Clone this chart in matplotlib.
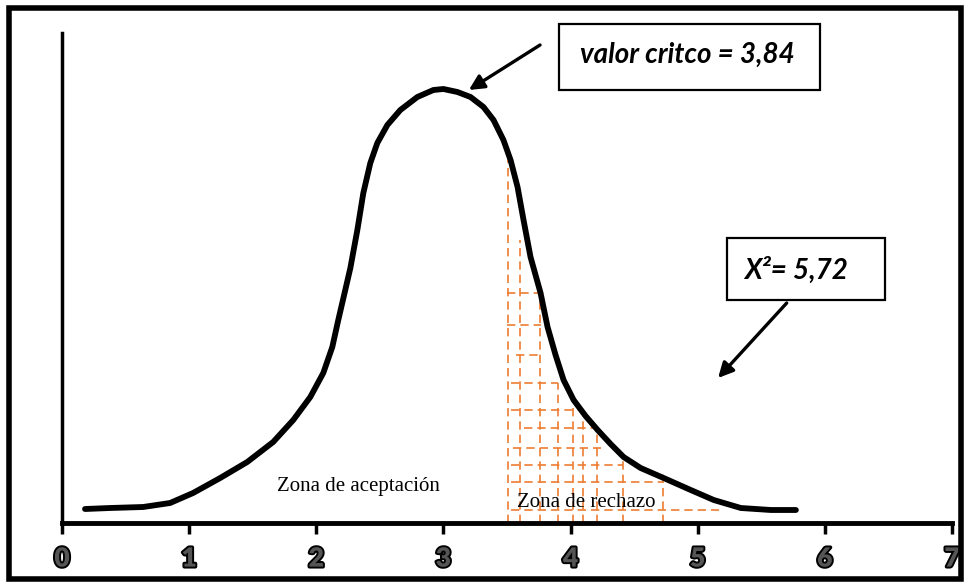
import matplotlib
matplotlib.use("Agg")
import matplotlib.pyplot as plt
from matplotlib.patches import Rectangle
import matplotlib.patheffects as pe

# curva (leída a ojo de la figura)
curva_x = [0.181, 0.378, 0.638, 0.850, 1.031, 1.244, 1.457, 1.661, 1.819, 1.953,
           2.055, 2.126, 2.173, 2.228, 2.268, 2.323, 2.370, 2.425, 2.480, 2.559,
           2.661, 2.795, 2.921, 3.000, 3.110, 3.213, 3.315, 3.394, 3.472, 3.528,
           3.583, 3.630, 3.685, 3.764, 3.819, 3.882, 3.945, 4.024, 4.118, 4.213,
           4.315, 4.417, 4.551, 4.732, 4.945, 5.126, 5.339, 5.575, 5.772]
curva_y = [0.14, 0.15, 0.16, 0.20, 0.30, 0.45, 0.61, 0.81, 1.03, 1.26,
           1.50, 1.76, 2.03, 2.33, 2.55, 2.93, 3.30, 3.60, 3.80, 3.98,
           4.13, 4.26, 4.33, 4.34, 4.31, 4.26, 4.16, 4.03, 3.83, 3.63,
           3.36, 3.03, 2.66, 2.30, 1.96, 1.68, 1.43, 1.23, 1.07, 0.93,
           0.79, 0.66, 0.55, 0.45, 0.33, 0.23, 0.15, 0.13, 0.13]

# rayado naranja de la zona de rechazo
vert_x = [3.51, 3.60, 3.76, 3.90, 4.02, 4.10, 4.21, 4.41, 4.73]
vert_top = [3.76, 2.83, 2.30, 1.40, 1.23, 1.13, 0.93, 0.66, 0.50]
hor_y = [2.30, 1.98, 1.68, 1.40, 1.13, 0.95, 0.75, 0.58, 0.41, 0.13]
hor_x0 = [3.50, 3.50, 3.57, 3.53, 3.53, 3.63, 3.55, 3.53, 3.53, 3.53]
hor_x1 = [3.76, 3.77, 3.77, 3.90, 4.10, 4.21, 4.24, 4.41, 4.73, 5.17]

ticks = [0, 1, 2, 3, 4, 5, 6, 7]

fig = plt.figure(figsize=(9.64, 5.83), dpi=100)
ax = fig.add_axes([62/964, 60/583, 890/964, 490/583])

naranja = "#ED7D31"
for x, top in zip(vert_x, vert_top):
    ax.plot([x, x], [0, top], color=naranja, lw=1.2, ls=(0, (5, 3)), zorder=1)
for y, x0, x1 in zip(hor_y, hor_x0, hor_x1):
    ax.plot([x0, x1], [y, y], color=naranja, lw=1.2, ls=(0, (5, 3)), zorder=1)

ax.plot(curva_x, curva_y, color="black", lw=4.2, solid_capstyle="round",
        solid_joinstyle="round", zorder=3)

ax.set_xlim(0, 7)
ax.set_ylim(0, 4.9)
for s in ["top", "right"]:
    ax.spines[s].set_visible(False)
ax.spines["left"].set_linewidth(2.5)
ax.spines["bottom"].set_linewidth(3.5)
ax.set_yticks([])
ax.set_xticks(ticks)
ax.set_xticklabels([str(t) for t in ticks], family=["Lato", "DejaVu Sans"],
                   fontweight="heavy", fontsize=19, color="#555555")
for lab in ax.get_xticklabels():
    lab.set_path_effects([pe.Stroke(linewidth=2.8, foreground="black"), pe.Normal()])
ax.tick_params(axis="x", direction="out", length=8, width=2.5, pad=9)

ax.text(2.33, 0.32, "Zona de aceptación", family=["Liberation Serif", "DejaVu Serif"],
        fontsize=15, ha="center", va="baseline")
ax.text(3.58, 0.16, "Zona de rechazo", family=["Liberation Serif", "DejaVu Serif"],
        fontsize=15, ha="left", va="baseline", zorder=2)

# cajas de texto
ax.add_patch(Rectangle((3.906, 4.33), 2.055, 0.66, fill=False, ec="black", lw=1.6,
                       clip_on=False, zorder=4))
ax.text(4.917, 4.68, "valor critco = 3,84", family=["Lato", "DejaVu Sans"],
        fontsize=20, fontweight="bold", style="italic", ha="center", va="center")
ax.add_patch(Rectangle((5.228, 2.23), 1.244, 0.62, fill=False, ec="black", lw=1.6,
                       clip_on=False, zorder=4))
ax.text(5.772, 2.53, "X²= 5,72", family=["Lato", "DejaVu Sans"],
        fontsize=20, fontweight="bold", style="italic", ha="center", va="center")

flecha = dict(arrowstyle="-|>,head_length=0.9,head_width=0.45", color="black",
              lw=2.4, shrinkA=0, shrinkB=0)
ax.annotate("", xy=(3.20, 4.33), xytext=(3.76, 4.78), arrowprops=flecha)
ax.annotate("", xy=(5.16, 1.45), xytext=(5.70, 2.20), arrowprops=flecha)

fig.add_artist(Rectangle((9/964, 4/583), 952/964, 571/583, transform=fig.transFigure,
                         fill=False, ec="black", lw=4))

plt.savefig("out.png", dpi=100)
plt.close()
